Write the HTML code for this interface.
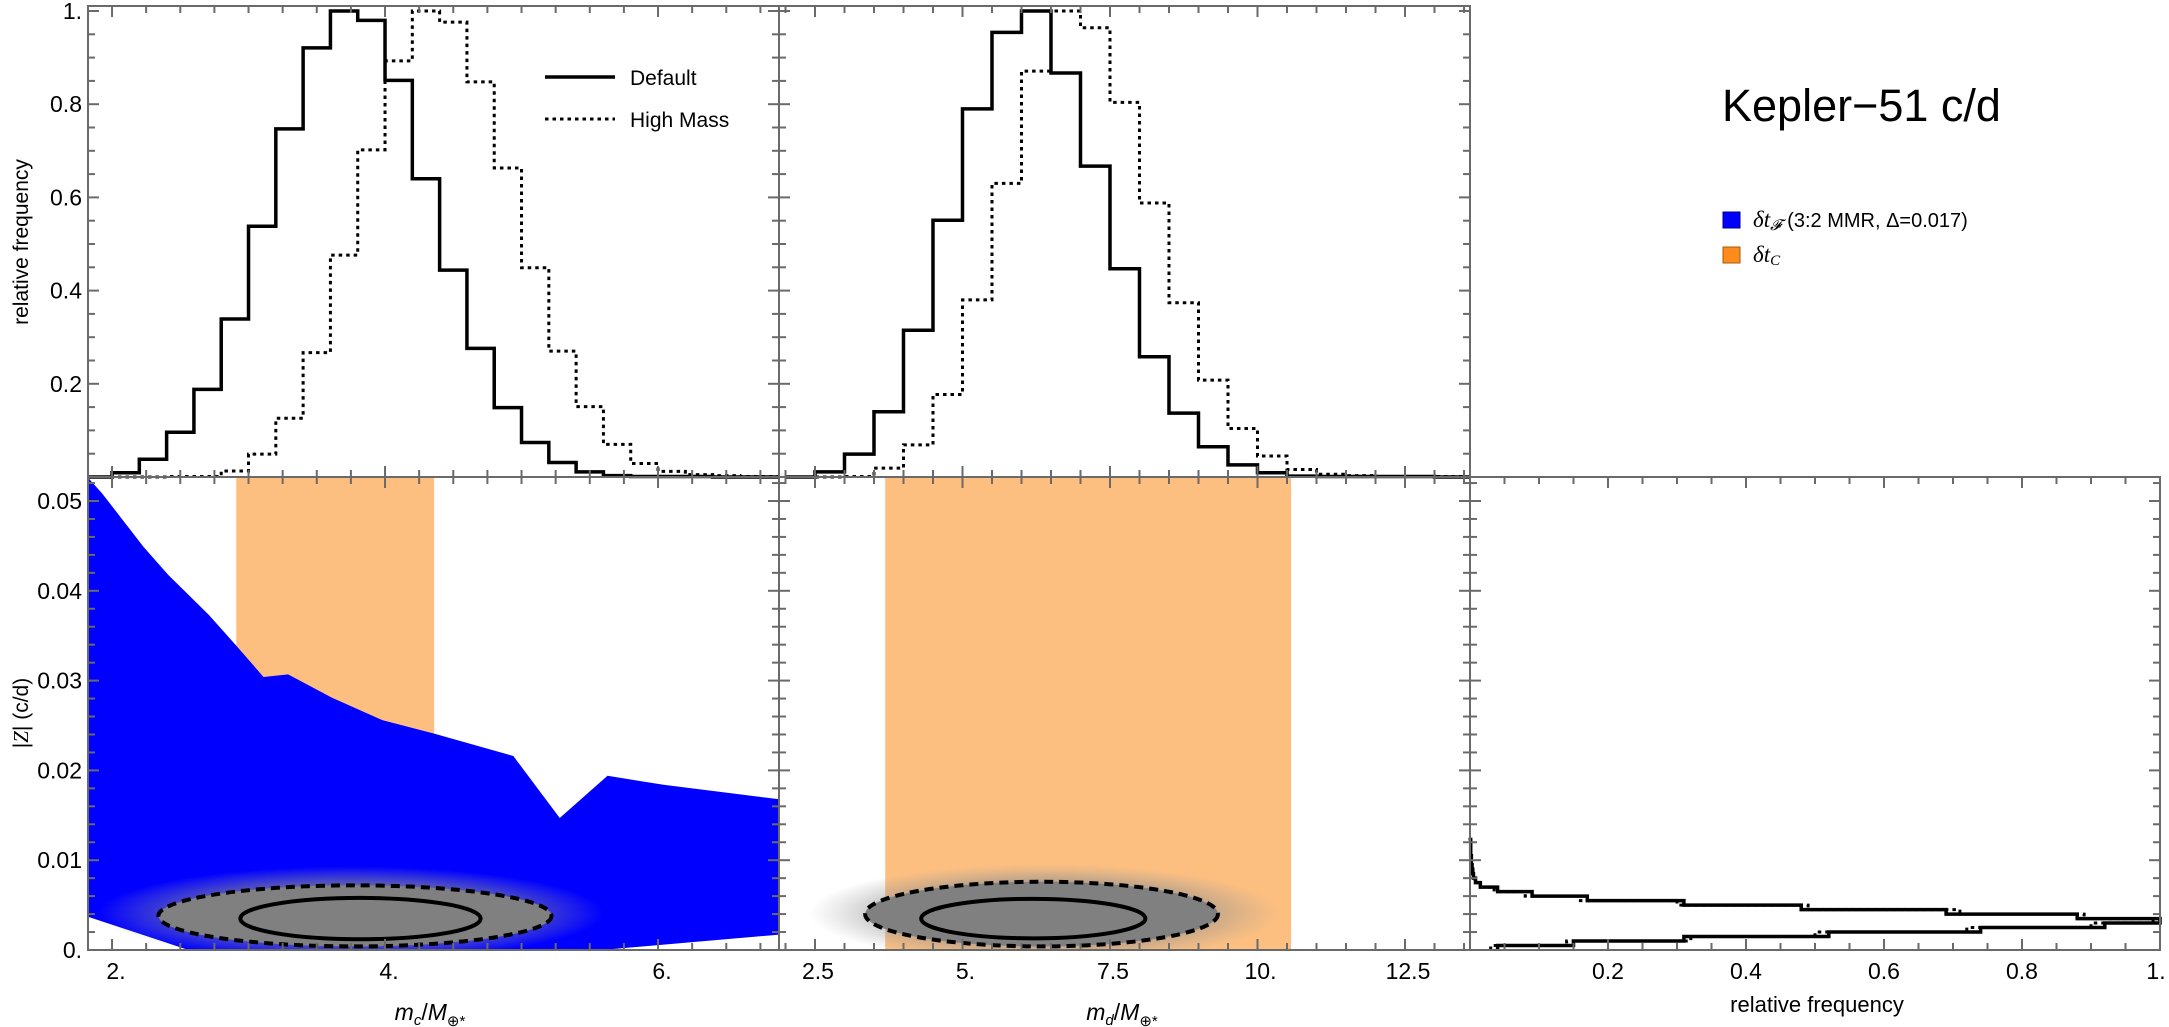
<!DOCTYPE html>
<html><head><meta charset="utf-8"><style>
html,body{margin:0;padding:0;background:#fff;}
svg{display:block;font-family:"Liberation Sans",sans-serif;}
</style></head><body>
<svg id="fig" width="2169" height="1027" viewBox="0 0 2169 1027" xmlns="http://www.w3.org/2000/svg">
<defs>
<clipPath id="c1"><rect x="88" y="477" width="691" height="473"/></clipPath>
<clipPath id="c2"><rect x="779" y="477" width="691" height="473"/></clipPath>
<radialGradient id="halo" cx="50%" cy="50%" r="50%">
<stop offset="0" stop-color="#808080" stop-opacity="1"/>
<stop offset="0.6" stop-color="#8a8a8a" stop-opacity="0.85"/>
<stop offset="1" stop-color="#a0a0a0" stop-opacity="0"/>
</radialGradient>
</defs>
<g id="layer"></g>
<text x="1722" y="121" font-size="45">Kepler−51 c/d</text>
<rect x="1723" y="212" width="17" height="16" fill="#0000ff" stroke="#00008a"/>
<text x="1753" y="227" font-size="20"><tspan font-family="Liberation Serif" font-style="italic" font-size="23">δt</tspan><tspan font-family="Liberation Serif" font-style="italic" font-size="15" dy="3">𝓕</tspan><tspan dy="-3" dx="6">(3:2 MMR, Δ=0.017)</tspan></text>
<rect x="1723" y="247" width="17" height="16" fill="#ff8c1a" stroke="#a05a10"/>
<text x="1753" y="262" font-size="20"><tspan font-family="Liberation Serif" font-style="italic" font-size="23">δt</tspan><tspan font-family="Liberation Serif" font-style="italic" font-size="15" dy="3">C</tspan></text>
</svg>
<script>
// ---- data ----
const mcEdges0 = 1.8, mcBinW = 0.2;
const mcDefault = [0,0.009,0.038,0.096,0.188,0.339,0.538,0.747,0.921,1.0,0.98,0.851,0.64,0.444,0.276,0.149,0.074,0.031,0.011,0.003,0.001,0.001,0.001,0,0,0];
const mcHigh    = [0,0,0,0.001,0.001,0.013,0.049,0.126,0.267,0.476,0.702,0.893,1.0,0.976,0.848,0.663,0.449,0.27,0.151,0.07,0.029,0.012,0.005,0.003,0.001,0.001];
const mdEdges0 = 2.0, mdBinW = 0.5;
const mdDefault = [0,0.011,0.049,0.14,0.315,0.551,0.79,0.954,1.0,0.867,0.667,0.447,0.258,0.137,0.065,0.026,0.009,0.002,0.001,0.001,0.001,0.001,0,0];
const mdHigh    = [0,0,0.001,0.019,0.069,0.177,0.38,0.63,0.871,1.0,0.964,0.804,0.588,0.374,0.208,0.104,0.045,0.016,0.006,0.003,0.001,0.001,0.001,0];
const zBinW = 0.0005;
const zDefault = [0.04,0.15,0.31,0.52,0.74,0.92,1.0,0.88,0.69,0.48,0.31,0.17,0.09,0.04,0.015,0.008,0.005,0.004,0.003,0.002,0.002,0.001,0.001,0.001,0.001];
const zHigh    = [0.03,0.14,0.32,0.5,0.72,0.9,0.99,0.89,0.71,0.49,0.3,0.16,0.08,0.035,0.014,0.007,0.004,0.003,0.002,0.002,0.001,0.001,0.001,0.001,0];
const blueUpperX = [1.824,1.93,2.23,2.41,2.71,2.91,3.11,3.29,3.61,3.98,4.36,4.94,5.28,5.63,6.04,6.88];
const blueUpperZ = [0.0526,0.0508,0.0449,0.0418,0.0373,0.0339,0.0304,0.0307,0.0281,0.0256,0.0241,0.0216,0.0147,0.0194,0.0184,0.0168];
const blueLowerX = [1.824,2.56,5.59,6.88];
const blueLowerZ = [0.0037,0,0,0.0017];
const orangeC = [2.91,4.36];
const orangeD = [3.69,10.57];
// contour ellipses: [cx, cz, rx, rz]
const contC = {outer:[3.78,0.0038,1.44,0.0034], inner:[3.82,0.0035,0.88,0.0023], halo:[3.75,0.0041,1.85,0.0052]};
const contD = {outer:[6.34,0.004,2.99,0.0036], inner:[6.2,0.0035,1.9,0.0022], halo:[6.4,0.0041,4.0,0.0055]};
const xTicksC = [2,4,6], xTickLabelsC = ["2.","4.","6."];
const xTicksD = [2.5,5,7.5,10,12.5], xTickLabelsD = ["2.5","5.","7.5","10.","12.5"];
const xTicksF = [0.2,0.4,0.6,0.8,1.0], xTickLabelsF = ["0.2","0.4","0.6","0.8","1."];
const yTicksTop = [0.2,0.4,0.6,0.8,1.0], yTickLabelsTop = ["0.2","0.4","0.6","0.8","1."];
const yTicksZ = [0,0.01,0.02,0.03,0.04,0.05], yTickLabelsZ = ["0.","0.01","0.02","0.03","0.04","0.05"];

// ---- axis functions ----
const X1 = v => 88 + (v-1.824)*136.5;
const X2 = v => 779 + (v-1.89)*59;
const X3 = v => 1470 + v*690;
const YT = v => 477 - v*466;
const YZ = v => 950 - v*8980;

const NS="http://www.w3.org/2000/svg";
const layer=document.getElementById('layer');
function mk(tag,attrs,parent){const e=document.createElementNS(NS,tag);for(const k in attrs)e.setAttribute(k,attrs[k]);(parent||layer).appendChild(e);return e;}

let o1=mk('rect',{x:X1(orangeC[0]),y:477,width:X1(orangeC[1])-X1(orangeC[0]),height:473,fill:'#fdbf80'});


let o2=mk('rect',{x:X2(orangeD[0]),y:477,width:X2(orangeD[1])-X2(orangeD[0]),height:473,fill:'#fdbf80'});



let bp='';
blueUpperX.forEach((x,i)=>{bp+=(i?'L':'M')+X1(x)+','+YZ(blueUpperZ[i]);});
for(let i=blueLowerX.length-1;i>=0;i--){bp+='L'+X1(blueLowerX[i])+','+YZ(blueLowerZ[i]);}
bp+='Z';
let blue=mk('path',{d:bp,fill:'#0000ff','clip-path':'url(#c1)'});



function cloud(cont,X,clip,name){
  const g=mk('g',{'clip-path':clip});
  
  
  const h=cont.halo,o=cont.outer,n=cont.inner;
  mk('ellipse',{cx:X(h[0]),cy:YZ(h[1]),rx:X(h[0]+h[2])-X(h[0]),ry:h[3]*8980,fill:'url(#halo)',opacity:0.8},g);
  mk('ellipse',{cx:X(o[0]),cy:YZ(o[1]),rx:X(o[0]+o[2])-X(o[0]),ry:o[3]*8980,fill:'#808080'},g);
  const d=mk('ellipse',{cx:X(o[0]),cy:YZ(o[1]),rx:X(o[0]+o[2])-X(o[0]),ry:o[3]*8980,fill:'none',stroke:'#000','stroke-width':4,'stroke-dasharray':'9,6'},g);
  
  
  const s=mk('ellipse',{cx:X(n[0]),cy:YZ(n[1]),rx:X(n[0]+n[2])-X(n[0]),ry:n[3]*8980,fill:'none',stroke:'#000','stroke-width':4},g);
  
  
}
cloud(contC,X1,'url(#c1)','scatter-cloud-mc');
cloud(contD,X2,'url(#c2)','scatter-cloud-md');

function stepPath(e0,w,vals,X,Y,xmin,xmax){
  let d='',first=true;
  vals.forEach((v,i)=>{
    let a=Math.max(e0+i*w,xmin),b=Math.min(e0+(i+1)*w,xmax);
    if(b<=a)return;
    d+=(first?'M':'L')+X(a)+','+Y(v)+'L'+X(b)+','+Y(v);first=false;
  });
  return d;
}
function hist(d,dash,name){
  const p=mk('path',{d:d,fill:'none',stroke:'#000','stroke-width':dash?3:3.5,'stroke-dasharray':dash?'3.5,4':'none'});
  
  
}
hist(stepPath(mcEdges0,mcBinW,mcHigh,X1,YT,1.824,6.885),true,'hist-mc-high-mass');
hist(stepPath(mcEdges0,mcBinW,mcDefault,X1,YT,1.824,6.885),false,'hist-mc-default');
hist(stepPath(mdEdges0,mdBinW,mdHigh,X2,YT,1.89,13.6),true,'hist-md-high-mass');
hist(stepPath(mdEdges0,mdBinW,mdDefault,X2,YT,1.89,13.6),false,'hist-md-default');
function hStep(vals){
  let d='';
  vals.forEach((v,i)=>{d+=(i?'L':'M')+X3(v)+','+YZ(i*zBinW)+'L'+X3(v)+','+YZ((i+1)*zBinW);});
  return d;
}
hist(hStep(zHigh),true,'hist-z-high-mass');
hist(hStep(zDefault),false,'hist-z-default');

function frame(x0,x1,y0,y1,name){
  const r=mk('rect',{x:x0,y:y0,width:x1-x0,height:y1-y0,fill:'none',stroke:'#6a6a6a','stroke-width':2});
  
  
}
const tk=mk('g',{stroke:'#6a6a6a','stroke-width':2});


function xt(X,from,to,step,majors,y0,y1){
  for(let v=from;v<=to+1e-9;v+=step){const px=X(v);const maj=majors.some(m=>Math.abs(m-v)<1e-6);const L=maj?11:7;
    mk('line',{x1:px,x2:px,y1:y0,y2:y0+L},tk);mk('line',{x1:px,x2:px,y1:y1,y2:y1-L},tk);}
}
function yt(Y,from,to,step,majors,x0,x1){
  for(let v=from;v<=to+1e-9;v+=step){const py=Y(v);const maj=majors.some(m=>Math.abs(m-v)<1e-6);const L=maj?11:7;
    mk('line',{y1:py,y2:py,x1:x0,x2:x0+L},tk);mk('line',{y1:py,y2:py,x1:x1,x2:x1-L},tk);}
}
xt(X1,2,6.75,0.25,xTicksC,6,477); xt(X1,2,6.75,0.25,xTicksC,477,950);
xt(X2,2,13.5,0.5,xTicksD,6,477); xt(X2,2,13.5,0.5,xTicksD,477,950);
xt(X3,0.05,1.0,0.05,xTicksF,477,950);
yt(YT,0.05,1.0,0.05,yTicksTop,88,779); yt(YT,0.05,1.0,0.05,yTicksTop,779,1470);
yt(YZ,0.002,0.052,0.002,yTicksZ,88,779); yt(YZ,0.002,0.052,0.002,yTicksZ,779,1470); yt(YZ,0.002,0.052,0.002,yTicksZ,1470,2160);
frame(88,779,6,477,'panel-top-mc'); frame(779,1470,6,477,'panel-top-md');
frame(88,779,477,950,'panel-bottom-mc'); frame(779,1470,477,950,'panel-bottom-md'); frame(1470,2160,477,950,'panel-bottom-freq');

function txt(s,x,y,attrs,name){const t=mk('text',Object.assign({x:x,y:y,'font-size':23},attrs||{}));t.textContent=s;
  
  return t;}
yTicksTop.forEach((v,i)=>txt(yTickLabelsTop[i],82,YT(v)+8,{'text-anchor':'end'},'y-tick-label-top'));
yTicksZ.forEach((v,i)=>txt(yTickLabelsZ[i],82,YZ(v)+8,{'text-anchor':'end'},'y-tick-label-z'));
xTicksC.forEach((v,i)=>txt(xTickLabelsC[i],X1(v)+4,979,{'text-anchor':'middle'},'x-tick-label-mc'));
xTicksD.forEach((v,i)=>txt(xTickLabelsD[i],X2(v)+3,979,{'text-anchor':'middle'},'x-tick-label-md'));
xTicksF.forEach((v,i)=>txt(xTickLabelsF[i],X3(v)+(i==4?-4:0),979,{'text-anchor':'middle'},'x-tick-label-freq'));
txt('relative frequency',28,242,{'text-anchor':'middle',transform:'rotate(-90 28 242)','font-size':21},'y-axis-title-top');
const zt=txt('',28,713,{'text-anchor':'middle',transform:'rotate(-90 28 713)','font-size':21},'y-axis-title-z');
zt.innerHTML='|<tspan font-family="Liberation Serif" font-style="italic">Z</tspan>| (c/d)';
const m1=txt('',430,1020,{'text-anchor':'middle','font-size':23},'x-axis-title-mc');
m1.innerHTML='<tspan font-style="italic">m</tspan><tspan font-size="15" dy="5" font-style="italic">c</tspan><tspan dy="-5">/</tspan><tspan font-style="italic">M</tspan><tspan font-size="15" dy="6">⊕*</tspan>';
const m2=txt('',1122,1020,{'text-anchor':'middle','font-size':23},'x-axis-title-md');
m2.innerHTML='<tspan font-style="italic">m</tspan><tspan font-size="15" dy="5" font-style="italic">d</tspan><tspan dy="-5">/</tspan><tspan font-style="italic">M</tspan><tspan font-size="15" dy="6">⊕*</tspan>';
txt('relative frequency',1817,1012,{'text-anchor':'middle','font-size':22},'x-axis-title-freq');
const lg=mk('g',{});


mk('line',{x1:545,x2:615,y1:77,y2:77,stroke:'#000','stroke-width':3.5},lg);
mk('line',{x1:545,x2:615,y1:119,y2:119,stroke:'#000','stroke-width':3,'stroke-dasharray':'3.5,4'},lg);
txt('Default',630,85,{'font-size':21},'legend-default');
txt('High Mass',630,127,{'font-size':21},'legend-high-mass');
</script>
</body></html>
